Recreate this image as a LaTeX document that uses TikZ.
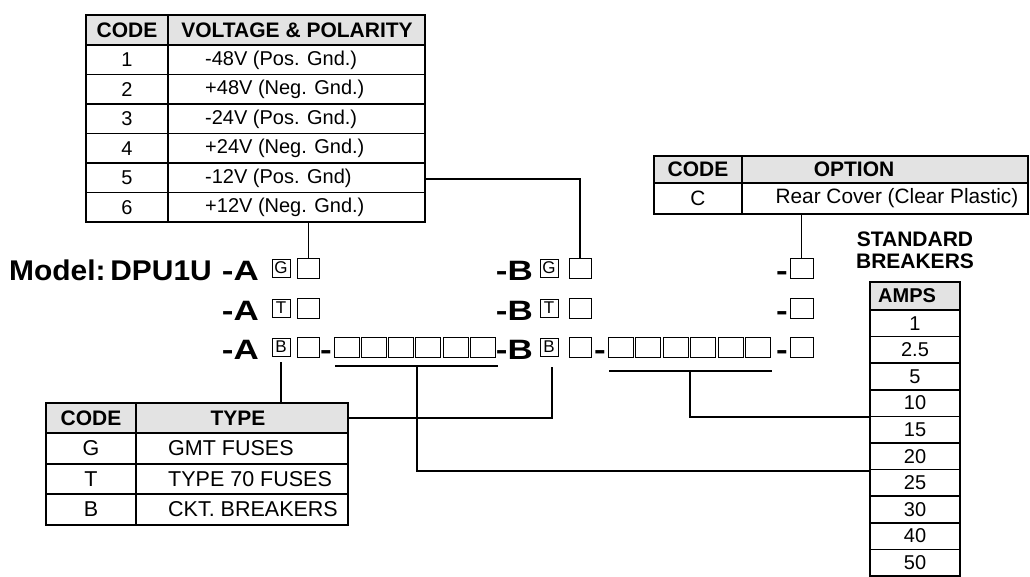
\documentclass[tikz,border=0pt]{standalone}
\usepackage{fontspec}
\setmainfont{Liberation Sans}
\newfontfamily\widebold[FakeStretch=1.25]{Liberation Sans Bold}
\newfontfamily\modelbold[FakeStretch=1.05]{Liberation Sans Bold}
\begin{document}
\begin{tikzpicture}[x=1pt,y=-1pt,
  outer/.style={draw=black,line width=2.2pt,inner sep=0pt},
  inner/.style={line width=1.5pt},
  hdrfill/.style={fill=black!11},
  hb/.style={font=\fontsize{21}{24}\selectfont\bfseries,inner sep=0pt},
  tx/.style={font=\fontsize{20}{23}\selectfont,inner sep=0pt},
  big/.style={font=\fontsize{28}{32}\widebold,inner sep=0pt},
  lbox/.style={draw,line width=0.8pt,minimum width=18pt,minimum height=18pt,inner sep=0pt,font=\fontsize{17}{18}\selectfont},
  ebox/.style={draw,line width=0.9pt,minimum width=22pt,minimum height=20pt,inner sep=0pt},
  wbox/.style={draw,line width=0.9pt,minimum width=25pt,minimum height=20pt,inner sep=0pt},
  conn/.style={line width=1.8pt}]
\useasboundingbox (0,0) rectangle (1030,576);

% ---------- Voltage table ----------
\fill[hdrfill] (86,15) rectangle (425,45);
\foreach \k in {0,...,5} {\draw[inner] (86,45+29.5*\k) -- (425,45+29.5*\k);}
\draw[inner] (168,15) -- (168,222);
\node[outer,minimum width=339pt,minimum height=207pt] (vt) at (255.5,118.5) {};
\node[hb] (vh1) at (127,30) {CODE};
\node[hb] (vh2) at (297,30) {VOLTAGE \& POLARITY};
\foreach \c/\t [count=\i from 0] in {1/-48V (Pos. Gnd.),2/+48V (Neg. Gnd.),3/-24V (Pos. Gnd.),4/+24V (Neg. Gnd.),5/-12V (Pos. Gnd),6/+12V (Neg. Gnd.)} {
  \node[tx] (vc\c) at (127,60+29.5*\i) {\c};
  \node[tx,anchor=west] (vv\c) at (205,60+29.5*\i) {\t};
}

% ---------- Option table ----------
\fill[hdrfill] (654,156) rectangle (1028,183);
\draw[inner] (654,183) -- (1028,183);
\draw[inner] (742,156) -- (742,214);
\node[outer,minimum width=374pt,minimum height=58pt] (ot) at (841,185) {};
\node[hb] (oh1) at (698,169.5) {CODE};
\node[hb] (oh2) at (854,169.5) {OPTION};
\node[tx,font=\fontsize{20.8}{23}\selectfont] (oc) at (698,198.5) {C};
\node[tx,font=\fontsize{20.8}{23}\selectfont] (ov) at (897,198.5) {Rear Cover (Clear Plastic)};

% ---------- Type table ----------
\fill[hdrfill] (46,403) rectangle (348,433);
\foreach \y in {433,464,494} {\draw[inner] (46,\y) -- (348,\y);}
\draw[inner] (136,403) -- (136,525);
\node[outer,minimum width=302pt,minimum height=122pt] (tt) at (197,464) {};
\node[hb] (th1) at (91,418) {CODE};
\node[hb] (th2) at (238,418) {TYPE};
\foreach \c/\t/\y in {G/GMT FUSES/448.5,T/TYPE 70 FUSES/479,B/CKT. BREAKERS/509.5} {
  \node[tx,font=\fontsize{21.5}{24}\selectfont] (tc\c) at (91,\y) {\c};
  \node[tx,font=\fontsize{21.5}{24}\selectfont,anchor=west] (tv\c) at (168,\y) {\t};
}

% ---------- Amps table ----------
\node[hb] (std1) at (915,239) {STANDARD};
\node[hb] (std2) at (915,261) {BREAKERS};
\fill[hdrfill] (870,282) rectangle (960,310);
\foreach \k in {0,...,9} {\draw[inner] (870,310+26.6*\k) -- (960,310+26.6*\k);}
\node[outer,minimum width=90pt,minimum height=294pt] (at) at (915,429) {};
\node[hb,font=\fontsize{20}{24}\selectfont\bfseries,anchor=west] (ah) at (878,296) {AMPS};
\foreach \a [count=\i from 0] in {1,2.5,5,10,15,20,25,30,40,50} {
  \node[tx] (a\i) at (915,323.3+26.6*\i) {\a};
}
\coordinate (aL1) at (at.west |- 0,417);
\coordinate (aL2) at (at.west |- 0,471);

% ---------- Model line ----------
\node[inner sep=0pt,font=\fontsize{28.5}{32}\modelbold,anchor=base west] (model) at (9,280) {Model:\,DPU1U};
\foreach \r/\y/\L in {1/268/G,2/308/T,3/347/B} {
  \node[big,anchor=base east] (dA\r) at (259,\y+12) {-A};
  \node[lbox] (lA\r) at (281,\y) {\L};
  \node[ebox] (eA\r) at (308.5,\y) {};
  \node[big,anchor=base east] (dB\r) at (533,\y+12) {-B};
  \node[lbox] (lB\r) at (549,\y) {\L};
  \node[ebox] (eB\r) at (580,\y) {};
  \node[big,anchor=base] (dO\r) at (782,\y+12) {-};
  \node[ebox,minimum width=23pt] (oB\r) at (801.5,\y) {};
}
\node[big,anchor=base] (hA) at (326,359) {-};
\node[big,anchor=base] (hB) at (600,359) {-};
\foreach \i in {0,...,5} {
  \node[wbox] (wa\i) at (346.5+27.3*\i,347) {};
  \node[wbox] (wb\i) at (620.5+27.5*\i,347) {};
}

% ---------- Connectors ----------
\draw[conn] (eA1.north |- vt.south) -- (eA1.north);
\coordinate (v5) at (vt.east |- 0,179);
\draw[conn] (v5) -| (eB1.north);
\draw[conn] (oB1.north |- ot.south) -- (oB1.north);

\coordinate (tA) at (281,362);
\draw[conn] (tA) -- (tA |- tt.north);
\coordinate (tB) at (552,367);
\coordinate (tR) at (tt.east |- 0,418);
\draw[conn] (tR) -| (tB);

\coordinate (uA1) at (335,366);
\coordinate (uA2) at (498,366);
\coordinate (uAm) at (417,366);
\draw[conn] (uA1) -- (uA2);
\draw[conn] (uAm) |- (aL2);

\coordinate (uB1) at (609,371);
\coordinate (uB2) at (772,371);
\coordinate (uBm) at (690,371);
\draw[conn] (uB1) -- (uB2);
\draw[conn] (uBm) |- (aL1);
\end{tikzpicture}
\end{document}
